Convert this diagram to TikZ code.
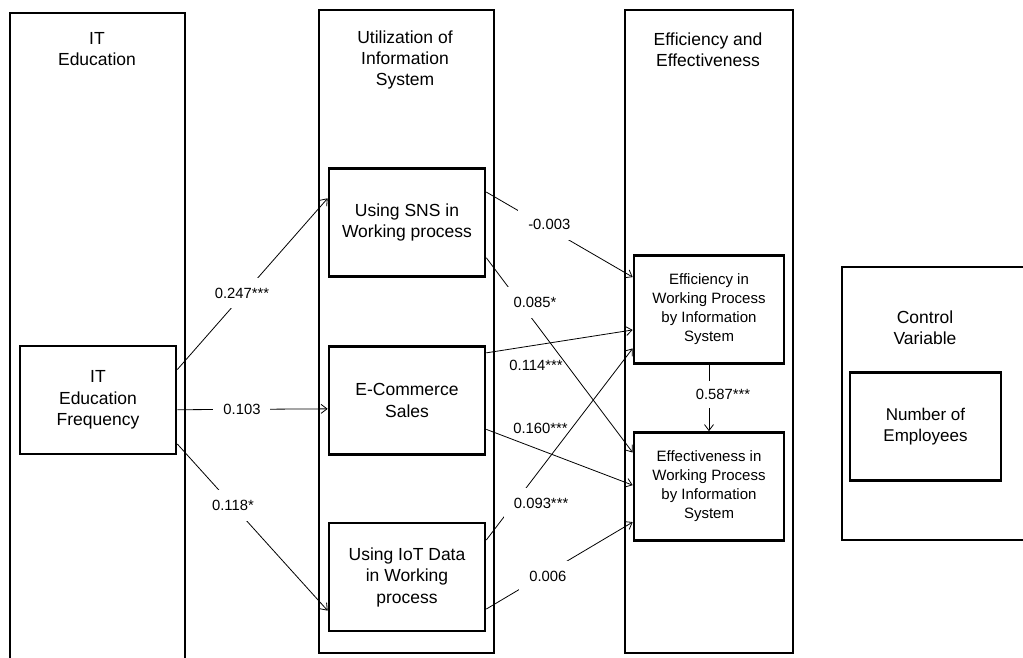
\documentclass[tikz,border=0pt]{standalone}
\usepackage{fontspec}
\setmainfont{Liberation Sans}
\usetikzlibrary{arrows.meta}
\begin{document}
\begin{tikzpicture}
  [x=1pt,y=-1pt,>={Straight Barb[length=6pt,width=9pt]},
   col/.style={draw,line width=2.6pt,inner sep=0pt},
   head/.style={align=center,font=\fontsize{17.5}{21}\selectfont},
   box/.style={draw,line width=2.6pt,align=center,minimum width=156pt,
     minimum height=108pt,font=\fontsize{17.5}{21.5}\selectfont},
   small/.style={minimum width=150pt,font=\fontsize{15}{19}\selectfont},
   coef/.style={fill=white,inner sep=10pt,font=\fontsize{14.8}{17}\selectfont},
   every edge/.style={draw,->,line width=.8pt}]
  \useasboundingbox (0,0) rectangle (1023,657);

  \node[col,minimum width=175pt,minimum height=687pt] (c1) at (97.5,356.5) {};
  \node[col,minimum width=175pt,minimum height=643pt] (c2) at (406.5,331.5) {};
  \node[col,minimum width=168pt,minimum height=643pt] (c3) at (709,331.5) {};
  \node[col,minimum width=203pt,minimum height=273pt] (c4) at (943.5,403.5) {};

  \node[head] (t1) at (97,49) {IT\\Education};
  \node[head] (t2) at (405,60) {Utilization of\\Information\\System};
  \node[head] (t3) at (708,50) {Efficiency and\\Effectiveness};
  \node[head] (t4) at (925,327.5) {Control\\Variable};

  \node[box] (freq) at (98,400) {IT\\Education\\Frequency};
  \node[box] (sns) at (407,222.5) {Using SNS in\\Working process};
  \node[box] (ecom) at (407,400.5) {E-Commerce\\Sales};
  \node[box] (iot) at (407,577) {Using IoT Data\\in Working\\process};
  \node[box,small] (effc) at (709,309.5) {Efficiency in\\Working Process\\by Information\\System};
  \node[box,small] (effv) at (709,486.5) {Effectiveness in\\Working Process\\by Information\\System};
  \node[box,minimum width=151pt,font=\fontsize{17}{21}\selectfont] (emp) at (925.5,426.5) {Number of\\Employees};

\path
    (freq.21) edge node[coef,pos=.43,yshift=3pt] {0.247***} (sns.163)
    (freq.353.4) edge node[coef,pos=.43] {0.103} (ecom.186.1)
    (freq.331) edge node[coef,pos=.37] {0.118*} (iot.203)
    (sns.21) edge node[coef,pos=.43,yshift=4pt] {-0.003} (effc.157)
    (sns.336) edge node[coef,pos=.23,xshift=15pt] {0.085*} (effv.156)
    (ecom.31) edge node[coef,fill=none,inner sep=2pt,pos=.34,yshift=-20pt] {0.114***} (effc.195)
    (ecom.340) edge node[coef,fill=none,inner sep=2pt,pos=.37,yshift=22pt] {0.160***} (effv.179)
    (iot.25.4) edge node[coef,pos=.19,xshift=27pt] {0.093***} (effc.207.2)
    (iot.338.3) edge node[coef,pos=.42,yshift=-4pt] {0.006} (effv.205.3)
    (effc.south) edge node[coef,inner sep=8pt,pos=.45,xshift=14pt] {0.587***} (effv.north)
    ;

\end{tikzpicture}
\end{document}
